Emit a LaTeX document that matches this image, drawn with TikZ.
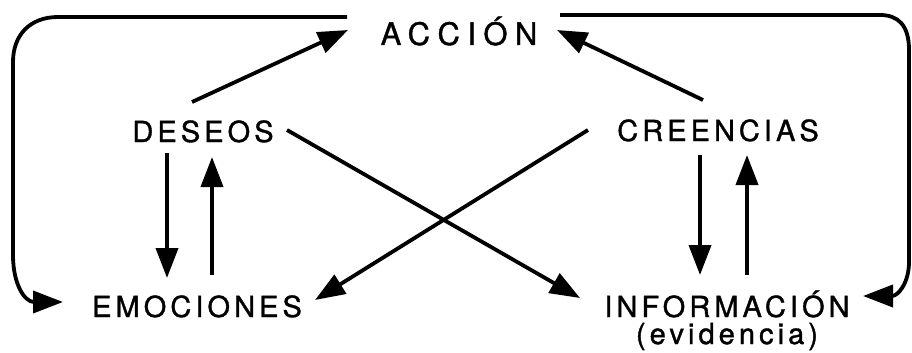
\documentclass[tikz,border=0pt]{standalone}
\usepackage{fontspec}
\setmainfont{TeX Gyre Heros}
\usetikzlibrary{arrows.meta,calc}
\begin{document}
\begin{tikzpicture}[x=1pt,y=-1pt,
  lab/.style={inner sep=0pt, anchor=base, font=\fontsize{29}{30}\selectfont\addfontfeature{LetterSpace=14,FakeBold=1.2}},
  big/.style={inner sep=0pt, anchor=base, font=\fontsize{31}{32}\selectfont\addfontfeature{LetterSpace=24,FakeBold=1.2}},
  con/.style={line width=3.8pt, -{Triangle[length=30pt,width=22pt]}},
]
\useasboundingbox (0,0) rectangle (912,353);
\node[big] (acc) at (459,45) {ACCIÓN};
\node[lab] (des) at (203,142) {DESEOS};
\node[lab] (cre) at (718,141) {CREENCIAS};
\node[lab] (emo) at (197,317) {EMOCIONES};
\node[lab] (inf) at (727,317) {INFORMACIÓN};
\node[lab] (evi) at (727,344) {(evidencia)};

% diagonal arrows
\draw[con] ($(des.base)+(-11,-40)$) -- ($(acc.base)+(-111,-15)$);
\draw[con] ($(cre.base)+(-15,-41)$) -- ($(acc.base)+(98,-15)$);
\draw[con] ($(des.base)+(84,-12)$) -- ($(inf.base)+(-147,-19)$);
\draw[con] ($(cre.base)+(-130,-11)$) -- ($(emo.base)+(118,-17)$);
% vertical arrows
\draw[con] ($(des.base)+(-36,11)$) -- ($(emo.base)+(-30,-39)$);
\draw[con] ($(emo.base)+(15,-42)$) -- ($(des.base)+(9,15)$);
\draw[con] ($(cre.base)+(-18,14)$) -- ($(inf.base)+(-27,-42)$);
\draw[con] ($(inf.base)+(20,-42)$) -- ($(cre.base)+(29,14)$);
% loops
\coordinate (lstart) at ($(acc.base)+(-112,-28)$);
\coordinate (lend) at ($(emo.base)+(-134,-15)$);
\draw[con] (lstart) -- (58,17) .. controls (30,17) and (13,35) .. (13,62)
  -- (13,255) .. controls (13,285) and (25,302) .. (lend);
\coordinate (rstart) at ($(acc.base)+(101,-30)$);
\coordinate (rend) at ($(inf.base)+(136,-21)$);
\draw[con] (rstart) -- (880,15) .. controls (898,15) and (909,25) .. (909,50)
  -- (909,262) .. controls (909,283) and (898,296) .. (rend);
\end{tikzpicture}
\end{document}
